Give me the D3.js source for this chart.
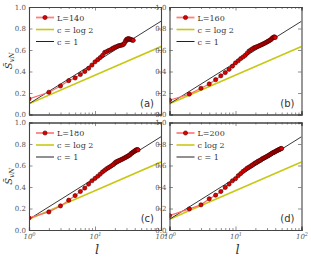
<!DOCTYPE html>
<html>
<head>
<meta charset="utf-8">
<script src="https://cdn.jsdelivr.net/npm/d3@7"></script>
<style>
  body { margin: 0; background: #fff; }
  text { font-family: "DejaVu Serif", "Liberation Serif", serif; }
</style>
</head>
<body>
<script>
// 数据：每个面板的 l 与 S_vN 数值
var panelNames = ["(a)", "(b)", "(c)", "(d)"];
var sizeLabels = ["L=140", "L=160", "L=180", "L=200"];
var log2Labels = ["c = log 2", "c = log 2", "c = log 2", "c log 2"];

var lA = d3.range(1, 39);
var sA = [0.145, 0.207, 0.265, 0.315, 0.34, 0.372, 0.40, 0.43, 0.46, 0.49,
  0.51, 0.53, 0.55, 0.577, 0.585, 0.595, 0.60, 0.61, 0.618, 0.625,
  0.63, 0.635, 0.64, 0.642, 0.645, 0.647, 0.652, 0.665, 0.685, 0.698,
  0.703, 0.705, 0.704, 0.70, 0.697, 0.694, 0.692, 0.69];

var lB = d3.range(1, 41);
var sB = [0.133, 0.19, 0.244, 0.284, 0.324, 0.36, 0.39, 0.42, 0.45, 0.48,
  0.50, 0.52, 0.535, 0.55, 0.57, 0.59, 0.60, 0.61, 0.62, 0.625,
  0.63, 0.635, 0.64, 0.645, 0.65, 0.655, 0.66, 0.665, 0.67, 0.675,
  0.68, 0.685, 0.69, 0.695, 0.70, 0.71, 0.715, 0.72, 0.722, 0.716];

var lC = d3.range(1, 46);
var sC = [0.112, 0.168, 0.224, 0.277, 0.32, 0.358, 0.39, 0.427, 0.458, 0.48,
  0.50, 0.52, 0.54, 0.555, 0.57, 0.58, 0.59, 0.60, 0.61, 0.625,
  0.635, 0.64, 0.645, 0.65, 0.655, 0.66, 0.665, 0.67, 0.675, 0.68,
  0.685, 0.69, 0.695, 0.70, 0.71, 0.715, 0.72, 0.725, 0.73, 0.735,
  0.74, 0.745, 0.745, 0.748, 0.745];

var lD = d3.range(1, 51);
var sD = [0.134, 0.196, 0.234, 0.29, 0.324, 0.358, 0.396, 0.427, 0.458, 0.477,
  0.505, 0.525, 0.545, 0.56, 0.575, 0.585, 0.595, 0.605, 0.615, 0.625,
  0.63, 0.64, 0.645, 0.65, 0.66, 0.665, 0.67, 0.675, 0.68, 0.685,
  0.69, 0.695, 0.70, 0.705, 0.71, 0.715, 0.72, 0.722, 0.725, 0.73,
  0.733, 0.737, 0.74, 0.743, 0.746, 0.749, 0.752, 0.755, 0.757, 0.758];

var lData = [lA, lB, lC, lD];
var sData = [sA, sB, sC, sD];

// 参考线 S = c/6 ln l + 0.1
var cValues = [Math.log(2), 1];
var lineColors = ["#c8c814", "#222"];
var offset = 0.1;
var yTicks = [0, 0.2, 0.4, 0.6, 0.8, 1.0];

var W = 311, H = 258;
var pw = 132, ph = 107.5;
var lefts = [29, 169.5, 29, 169.5];
var tops = [7, 7, 122.5, 122.5];

var svg = d3.select("body").append("svg")
  .attr("width", W).attr("height", H);

var x = d3.scaleLog().domain([1, 100]).range([0, pw]);
var y = d3.scaleLinear().domain([0, 1]).range([ph, 0]);
var minor = [2,3,4,5,6,7,8,9,20,30,40,50,60,70,80,90];

panelNames.forEach(function (name, i) {
  var g = svg.append("g")
    .attr("transform", "translate(" + lefts[i] + "," + tops[i] + ")");

  g.append("defs").append("clipPath").attr("id", "clip" + i)
    .append("rect").attr("width", pw).attr("height", ph);

  var plot = g.append("g").attr("clip-path", "url(#clip" + i + ")");

  // 参考直线
  cValues.forEach(function (c, k) {
    var pts = [1, 100].map(function (l) { return [x(l), y(offset + c / 6 * Math.log(l))]; });
    plot.append("path")
      .attr("d", d3.line()(pts))
      .attr("fill", "none")
      .attr("stroke", lineColors[k])
      .attr("stroke-width", k == 0 ? 1.6 : 0.9);
  });

  // 数据线与点
  var pts = lData[i].map(function (l, j) { return [l, sData[i][j]]; });
  plot.append("path")
    .attr("d", d3.line().x(function (d) { return x(d[0]); }).y(function (d) { return y(d[1]); })(pts))
    .attr("fill", "none")
    .attr("stroke", "#ff6a6a")
    .attr("stroke-width", 1.2);
  plot.selectAll("circle").data(pts).enter().append("circle")
    .attr("cx", function (d) { return x(d[0]); })
    .attr("cy", function (d) { return y(d[1]); })
    .attr("r", 2.1)
    .attr("fill", "#e00000")
    .attr("stroke", "#400")
    .attr("stroke-width", 0.6);

  // 坐标轴（刻度向内）
  var bottom = d3.axisBottom(x).tickValues([1, 10, 100]).tickSize(-3.5).tickPadding(2).tickFormat("");
  var gb = g.append("g").attr("transform", "translate(0," + ph + ")").call(bottom);
  g.append("g").attr("transform", "translate(0," + ph + ")")
    .call(d3.axisBottom(x).tickValues(minor).tickSize(-2).tickFormat(""));
  g.append("g").call(d3.axisTop(x).tickValues([1, 10, 100]).tickSize(-3.5).tickFormat(""));
  g.append("g").call(d3.axisTop(x).tickValues(minor).tickSize(-2).tickFormat(""));
  g.append("g").call(d3.axisLeft(y).tickValues(yTicks).tickSize(-3.5).tickPadding(3).tickFormat(d3.format(".1f")));
  g.append("g").attr("transform", "translate(" + pw + ",0)")
    .call(d3.axisRight(y).tickValues(yTicks).tickSize(-3.5).tickFormat(""));

  g.selectAll(".domain").attr("stroke", "#444").attr("stroke-width", 1.1);
  g.selectAll(".tick line").attr("stroke", "#444").attr("stroke-width", 0.6);
  g.selectAll(".tick text").attr("fill", "#555").style("font-size", "7px")
    .style("font-family", "'DejaVu Serif', serif");

  // 下方面板的 x 刻度标签 10^n
  if (i >= 2) {
    gb.selectAll(".tick").each(function (d) {
      var t = d3.select(this).append("text")
        .attr("y", 9).attr("text-anchor", "middle").attr("fill", "#555")
        .style("font-size", "7px").style("font-style", "italic");
      t.append("tspan").text("10");
      t.append("tspan").attr("dy", -3).style("font-size", "5px").text(Math.round(Math.log10(d)));
    });
    g.append("text")
      .attr("x", pw / 2 + 2).attr("y", ph + 24)
      .attr("text-anchor", "middle")
      .style("font-size", "13px").style("font-style", "italic")
      .attr("fill", "#333")
      .text("l");
  }

  // y 轴标签
  if (i % 2 == 0) {
    var yl = g.append("text")
      .attr("transform", "translate(-17," + (ph / 2) + ") rotate(-90)")
      .attr("text-anchor", "middle")
      .attr("fill", "#333")
      .style("font-size", "10px").style("font-style", "italic");
    yl.append("tspan").text("S̄");
    yl.append("tspan").attr("dy", 2).style("font-size", "7px").text("vN");
  }

  // 图例
  var lg = g.append("g").attr("transform", "translate(7,10.5)");
  lg.append("line").attr("x1", 0).attr("x2", 18).attr("stroke", "#ff8080").attr("stroke-width", 1.8);
  lg.append("circle").attr("cx", 9).attr("r", 2.1).attr("fill", "#e00000").attr("stroke", "#400").attr("stroke-width", 0.6);
  lg.append("text").attr("x", 21).attr("y", 3).style("font-size", "8px").attr("fill", "#333").text(sizeLabels[i]);

  var lg2 = g.append("g").attr("transform", "translate(7,22.5)");
  lg2.append("line").attr("x1", 0).attr("x2", 18).attr("stroke", lineColors[0]).attr("stroke-width", 1.6);
  lg2.append("text").attr("x", 21).attr("y", 3).style("font-size", "8px").attr("fill", "#333").text(log2Labels[i]);

  var lg3 = g.append("g").attr("transform", "translate(7,34.5)");
  lg3.append("line").attr("x1", 0).attr("x2", 18).attr("stroke", lineColors[1]).attr("stroke-width", 1);
  lg3.append("text").attr("x", 21).attr("y", 3).style("font-size", "8px").attr("fill", "#333").text("c = 1");

  // 面板编号
  g.append("text")
    .attr("x", pw - 7).attr("y", ph - 8)
    .attr("text-anchor", "end")
    .style("font-family", "'DejaVu Sans', sans-serif")
    .style("font-size", "10px")
    .attr("fill", "#333")
    .text(name);
});
</script>
</body>
</html>
